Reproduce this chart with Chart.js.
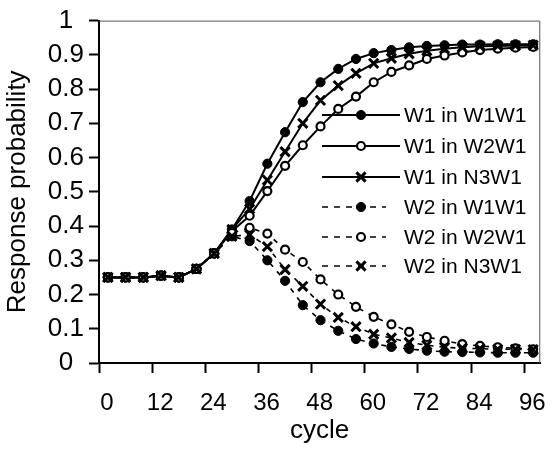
<!DOCTYPE html>
<html>
<head>
<meta charset="utf-8">
<script src="https://cdn.jsdelivr.net/npm/chart.js@4.4.1/dist/chart.umd.min.js"></script>
<style>
html,body{margin:0;padding:0;background:#fff;}
#wrap{width:554px;height:458px;}
</style>
</head>
<body>
<div id="wrap"><canvas id="c" width="554" height="458"></canvas></div>
<script>
// ---- data ----
const cycles = [2,6,10,14,18,22,26,30,34,38,42,46,50,54,58,62,66,70,74,78,82,86,90,94,98];

const w1InW1W1 = [0.25,0.25,0.25,0.255,0.25,0.275,0.32,0.39,0.473,0.582,0.674,0.762,0.82,0.859,0.888,0.905,0.914,0.922,0.926,0.928,0.93,0.93,0.931,0.931,0.931];
const w1InW2W1 = [0.25,0.25,0.25,0.255,0.25,0.275,0.32,0.385,0.43,0.502,0.576,0.636,0.691,0.742,0.778,0.82,0.85,0.869,0.888,0.898,0.907,0.914,0.918,0.921,0.923];
const w1InN3W1 = [0.25,0.25,0.25,0.255,0.25,0.275,0.32,0.39,0.45,0.534,0.617,0.70,0.767,0.81,0.846,0.875,0.89,0.903,0.912,0.918,0.922,0.925,0.926,0.927,0.928];
const w2InW1W1 = [0.25,0.25,0.25,0.255,0.25,0.275,0.32,0.37,0.356,0.30,0.24,0.169,0.125,0.094,0.07,0.057,0.047,0.041,0.036,0.033,0.032,0.031,0.03,0.03,0.03];
const w2InW2W1 = [0.25,0.25,0.25,0.255,0.25,0.275,0.32,0.38,0.395,0.378,0.331,0.295,0.244,0.2,0.164,0.135,0.113,0.091,0.076,0.065,0.055,0.05,0.046,0.043,0.04];
const w2InN3W1 = [0.25,0.25,0.25,0.255,0.25,0.275,0.32,0.37,0.375,0.34,0.273,0.224,0.172,0.133,0.106,0.084,0.073,0.06,0.052,0.046,0.043,0.042,0.04,0.04,0.039];

const seriesNames = ['W1 in W1W1','W1 in W2W1','W1 in N3W1','W2 in W1W1','W2 in W2W1','W2 in N3W1'];
const xTickValues = [0,12,24,36,48,60,72,84,96];
const xTickLabels = ['0','12','24','36','48','60','72','84','96'];
const yTickLabels = ['0','0.1','0.2','0.3','0.4','0.5','0.6','0.7','0.8','0.9','1'];
const xTitle = 'cycle';
const yTitle = 'Response probability';

// ---- styles ----
const FONT = '"Liberation Sans", Arial, Helvetica, sans-serif';
const seriesValues = [w1InW1W1, w1InW2W1, w1InN3W1, w2InW1W1, w2InW2W1, w2InN3W1];
const markerStyles = [
  {pointStyle:'circle', pointRadius:4.6, pointBackgroundColor:'#000', pointBorderWidth:1},
  {pointStyle:'circle', pointRadius:4, pointBackgroundColor:'#fff', pointBorderWidth:2.2},
  {pointStyle:'crossRot', pointRadius:6.5, pointBackgroundColor:'#000', pointBorderWidth:3}
];

const datasets = seriesValues.map((vals, i) => {
  const m = markerStyles[i % 3];
  const dashed = i >= 3;
  return Object.assign({
    label: seriesNames[i],
    data: cycles.map((c, k) => ({x: c, y: vals[k]})),
    borderColor: '#000',
    borderWidth: dashed ? 1.6 : 2,
    borderDash: dashed ? [5, 6] : [],
    pointBorderColor: '#000',
    tension: 0,
    fill: false,
    order: 6 - i
  }, m);
});

function drawMarker(ctx, ds, x, y) {
  ctx.save();
  ctx.setLineDash([]);
  ctx.strokeStyle = '#000';
  ctx.fillStyle = ds.pointBackgroundColor;
  ctx.lineWidth = ds.pointBorderWidth;
  const r = ds.pointRadius;
  ctx.beginPath();
  if (ds.pointStyle === 'circle') {
    ctx.arc(x, y, r, 0, Math.PI * 2);
    ctx.fill();
    ctx.stroke();
  } else {
    const o = Math.cos(Math.PI / 4) * r;
    ctx.moveTo(x - o, y - o); ctx.lineTo(x + o, y + o);
    ctx.moveTo(x + o, y - o); ctx.lineTo(x - o, y + o);
    ctx.stroke();
  }
  ctx.restore();
}

const legendRows = [115, 146, 177, 207, 237, 266];
const legendPlugin = {
  id: 'lineLegend',
  afterDatasetsDraw(chart) {
    const ctx = chart.ctx;
    chart.data.datasets.forEach((ds, i) => {
      const y = legendRows[i];
      ctx.save();
      ctx.strokeStyle = '#000';
      ctx.lineWidth = ds.borderWidth;
      const dashed = ds.borderDash && ds.borderDash.length;
      ctx.setLineDash(dashed ? [6, 6] : []);
      ctx.beginPath();
      ctx.moveTo(322, y);
      ctx.lineTo(dashed ? 386 : 400, y);
      ctx.stroke();
      ctx.restore();
      drawMarker(ctx, ds, 361, y);
      ctx.save();
      ctx.fillStyle = '#000';
      ctx.font = '21px ' + FONT;
      ctx.textBaseline = 'middle';
      ctx.textAlign = 'left';
      ctx.fillText(ds.label, 404, y + 1);
      ctx.restore();
    });
  }
};

const framePlugin = {
  id: 'frame',
  beforeDatasetsDraw(chart) {
    const {ctx, chartArea: a} = chart;
    ctx.save();
    ctx.strokeStyle = '#555';
    ctx.lineWidth = 1;
    ctx.beginPath();
    ctx.moveTo(a.left, a.top + 0.5);
    ctx.lineTo(a.right - 0.5, a.top + 0.5);
    ctx.lineTo(a.right - 0.5, a.bottom);
    ctx.stroke();
    ctx.restore();
  }
};

new Chart(document.getElementById('c'), {
  type: 'line',
  data: {datasets},
  plugins: [framePlugin, legendPlugin],
  options: {
    responsive: false,
    animation: false,
    devicePixelRatio: 1,
    layout: {padding: {top: 20, right: 9, left: 0, bottom: 0}},
    plugins: {legend: {display: false}, tooltip: {enabled: false}},
    scales: {
      x: {
        type: 'linear',
        min: 0,
        max: 99.6,
        afterBuildTicks(scale) { scale.ticks = xTickValues.map(v => ({value: v})); },
        afterFit(scale) { scale.height = 95; },
        ticks: {
          color: '#000',
          font: {family: FONT, size: 24},
          padding: 16,
          labelOffset: 8,
          maxRotation: 0,
          autoSkip: false,
          callback: (v, i) => xTickLabels[i]
        },
        grid: {display: true, drawOnChartArea: false, drawTicks: true, tickLength: 10, tickWidth: 2, color: '#000'},
        border: {display: true, color: '#000', width: 2},
        title: {display: true, text: xTitle, color: '#000', font: {family: FONT, size: 26}, padding: {top: 0, bottom: 12}}
      },
      y: {
        type: 'linear',
        min: 0,
        max: 1,
        afterFit(scale) { scale.width = 99; },
        ticks: {
          stepSize: 0.1,
          color: '#000',
          font: {family: FONT, size: 26},
          padding: 5,
          crossAlign: 'center',
          callback: (v) => yTickLabels[Math.round(v * 10)]
        },
        grid: {display: true, drawOnChartArea: false, drawTicks: true, tickLength: 10, tickWidth: 2, color: '#000'},
        border: {display: true, color: '#000', width: 2},
        title: {display: true, text: yTitle, color: '#000', font: {family: FONT, size: 26}, padding: {top: 2, bottom: 0}}
      }
    }
  }
});
</script>
</body>
</html>
